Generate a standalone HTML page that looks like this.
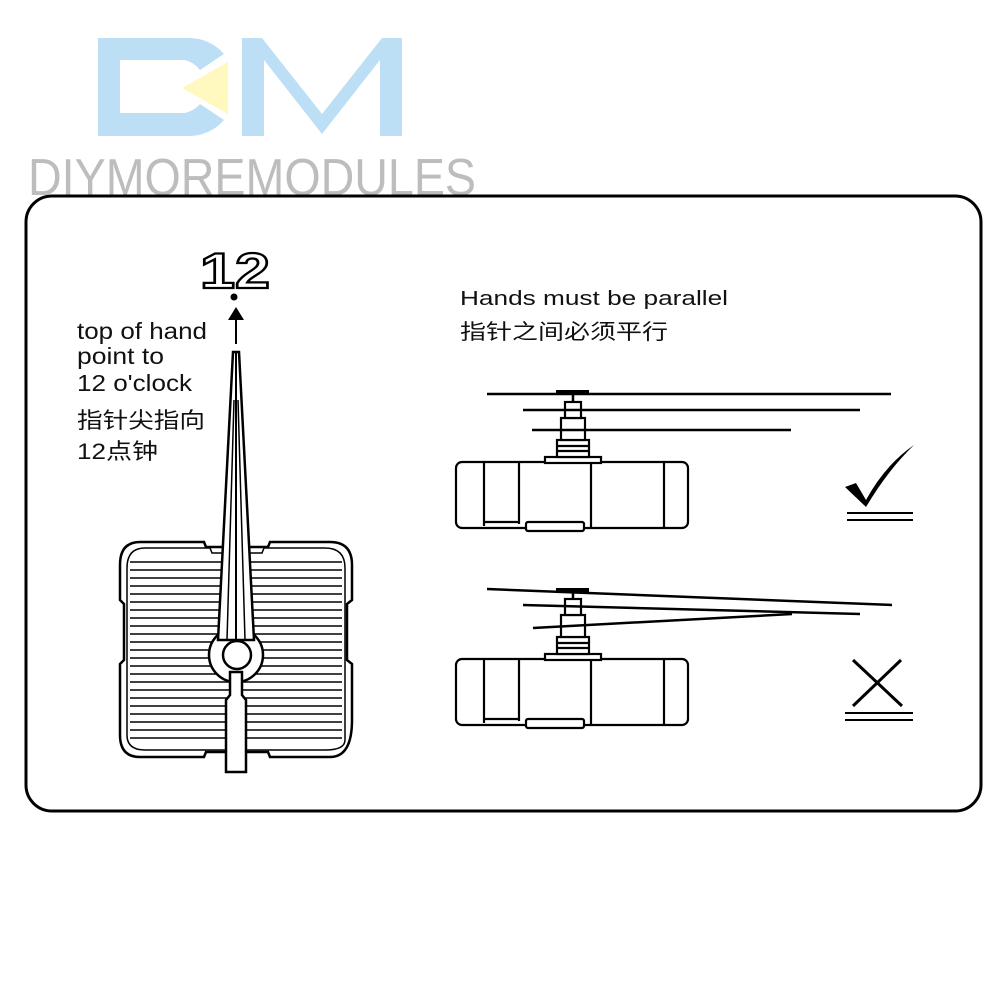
<!DOCTYPE html>
<html><head><meta charset="utf-8"><style>
html,body{margin:0;padding:0;background:#fff;}
svg{display:block;}
text{font-family:"Liberation Sans","Noto Sans CJK SC",sans-serif;}
</style></head><body>
<svg width="1000" height="1000" viewBox="0 0 1000 1000" xmlns="http://www.w3.org/2000/svg">
<!-- Logo -->
<g fill="#bddff6">
<path d="M98,38 H190 A46,46 0 0 1 224,54 L200,70 A28,28 0 0 0 185,60 H120 V113 H185 A28,28 0 0 0 200,104 L224,120 A46,46 0 0 1 190,136 H98 Z"/>
<path d="M242,38 H262 L322,114 L382,38 H402 V136 H380 V60 L322,134 L264,60 V136 H242 Z"/>
</g>
<polygon points="182,88 228,62 228,114" fill="#fff9bf"/>
<text x="28" y="195" font-size="52" fill="#bdbdbd" textLength="448" lengthAdjust="spacingAndGlyphs" font-family="Liberation Sans, sans-serif">DIYMOREMODULES</text>
<!-- Frame -->
<rect x="26" y="196" width="955" height="615" rx="26" fill="none" stroke="#000" stroke-width="3"/>
<!-- Left texts -->
<text x="200" y="288" font-size="50" font-weight="bold" fill="#fff" stroke="#000" stroke-width="2.2" textLength="70" lengthAdjust="spacingAndGlyphs">12</text>
<circle cx="234" cy="297" r="3.5" fill="#000"/>
<line x1="236" y1="344" x2="236" y2="318" stroke="#000" stroke-width="2"/>
<polygon points="228,320 244,320 236,307" fill="#000"/>
<g font-size="23" fill="#111">
<text x="77" y="339" textLength="130" lengthAdjust="spacingAndGlyphs">top of hand</text>
<text x="77" y="364" textLength="87" lengthAdjust="spacingAndGlyphs">point to</text>
<text x="77" y="391" textLength="115" lengthAdjust="spacingAndGlyphs">12 o'clock</text>
<text x="77" y="428" font-size="22" textLength="128" lengthAdjust="spacingAndGlyphs">指针尖指向</text>
<text x="77" y="459" font-size="22" textLength="81" lengthAdjust="spacingAndGlyphs">12点钟</text>
</g>
<!-- Clock movement front -->
<g fill="none" stroke="#000">
<path d="M140,542 H204 L206,547 H268 L270,542 H330 Q352,542 352,565 V600 L347,604 V660 L352,664 V720 Q352,757 330,757 H270 L268,752 H206 L204,757 H140 Q120,757 120,735 V664 L124,660 V604 L120,600 V565 Q120,542 140,542 Z" stroke-width="2.5"/>
<path d="M145,548 H210 L212,553 H262 L264,548 H325 Q345,548 345,568 V740 Q345,750 325,750 H145 Q127,750 127,735 V568 Q127,548 145,548 Z" stroke-width="1.5"/>
</g>
<g stroke="#000" stroke-width="1.6">
<line x1="130" y1="562" x2="342" y2="562"/><line x1="130" y1="570" x2="342" y2="570"/>
<line x1="130" y1="578" x2="342" y2="578"/><line x1="130" y1="586" x2="342" y2="586"/>
<line x1="130" y1="594" x2="342" y2="594"/><line x1="130" y1="602" x2="342" y2="602"/>
<line x1="130" y1="610" x2="342" y2="610"/><line x1="130" y1="618" x2="342" y2="618"/>
<line x1="130" y1="626" x2="342" y2="626"/><line x1="130" y1="634" x2="342" y2="634"/>
<line x1="130" y1="642" x2="342" y2="642"/><line x1="130" y1="650" x2="342" y2="650"/>
<line x1="130" y1="658" x2="342" y2="658"/><line x1="130" y1="666" x2="342" y2="666"/>
<line x1="130" y1="674" x2="342" y2="674"/><line x1="130" y1="682" x2="342" y2="682"/>
<line x1="130" y1="690" x2="342" y2="690"/><line x1="130" y1="698" x2="342" y2="698"/>
<line x1="130" y1="706" x2="342" y2="706"/><line x1="130" y1="714" x2="342" y2="714"/>
<line x1="130" y1="722" x2="342" y2="722"/><line x1="130" y1="730" x2="342" y2="730"/>
<line x1="130" y1="738" x2="342" y2="738"/>
</g>
<circle cx="236" cy="655" r="27" fill="#fff" stroke="#000" stroke-width="2.5"/>
<path d="M230,672 V695 L226,700 V772 H246 V700 L242,695 V672 Z" fill="#fff" stroke="#000" stroke-width="2.5"/>
<path d="M233,352 H239 L254,640 H218 Z" fill="#fff" stroke="#000" stroke-width="2.5"/>
<line x1="236" y1="352" x2="236" y2="640" stroke="#000" stroke-width="2"/>
<line x1="234" y1="400" x2="227" y2="640" stroke="#000" stroke-width="1.5"/>
<line x1="238" y1="400" x2="245" y2="640" stroke="#000" stroke-width="1.5"/>
<circle cx="237" cy="655" r="14" fill="#fff" stroke="#000" stroke-width="2.5"/>
<!-- Right texts -->
<text x="460" y="305" font-size="20" fill="#111" textLength="268" lengthAdjust="spacingAndGlyphs">Hands must be parallel</text>
<text x="460" y="339" font-size="21" fill="#111" textLength="208" lengthAdjust="spacingAndGlyphs">指针之间必须平行</text>
<!-- Top movement -->
<g id="mv" fill="#fff" stroke="#000" stroke-width="2.2">
<rect x="456" y="462" width="232" height="66" rx="6"/>
<line x1="484" y1="462" x2="484" y2="526"/><line x1="519" y1="462" x2="519" y2="524"/>
<line x1="591" y1="462" x2="591" y2="528"/><line x1="664" y1="462" x2="664" y2="528"/>
<line x1="484" y1="522" x2="519" y2="522"/>
<rect x="526" y="522" width="58" height="9" rx="2"/>
<rect x="545" y="457" width="56" height="6"/>
<rect x="557" y="440" width="32" height="17"/>
<line x1="557" y1="446" x2="589" y2="446"/><line x1="557" y1="451" x2="589" y2="451"/>
<rect x="561" y="418" width="24" height="22"/>
<rect x="565" y="402" width="16" height="16"/>
</g>
<g stroke="#000" stroke-width="2.5">
<line x1="487" y1="394" x2="891" y2="394"/>
<line x1="523" y1="410" x2="860" y2="410"/>
<line x1="532" y1="430" x2="791" y2="430"/>
<line x1="573" y1="394" x2="573" y2="402"/>
</g>
<rect x="556" y="390" width="33" height="5" fill="#000"/>
<path d="M845,487 L856,483 L866,500 Q885,465 914,445 Q888,470 866,507 Z" fill="#000"/>
<line x1="847" y1="513" x2="913" y2="513" stroke="#000" stroke-width="2"/>
<line x1="847" y1="520" x2="913" y2="520" stroke="#000" stroke-width="2"/>
<!-- Bottom movement -->
<use href="#mv" transform="translate(0,197)"/>
<g stroke="#000" stroke-width="2.5">
<line x1="487" y1="589" x2="892" y2="605"/>
<line x1="523" y1="605" x2="860" y2="614"/>
<line x1="533" y1="628" x2="792" y2="614"/>
<line x1="573" y1="591" x2="573" y2="599"/>
</g>
<rect x="556" y="588" width="33" height="5" fill="#000"/>
<g stroke="#000" stroke-width="3">
<line x1="853" y1="660" x2="902" y2="706"/>
<line x1="901" y1="660" x2="853" y2="706"/>
</g>
<line x1="845" y1="713" x2="913" y2="713" stroke="#000" stroke-width="2"/>
<line x1="845" y1="720" x2="913" y2="720" stroke="#000" stroke-width="2"/>
</svg>
</body></html>
